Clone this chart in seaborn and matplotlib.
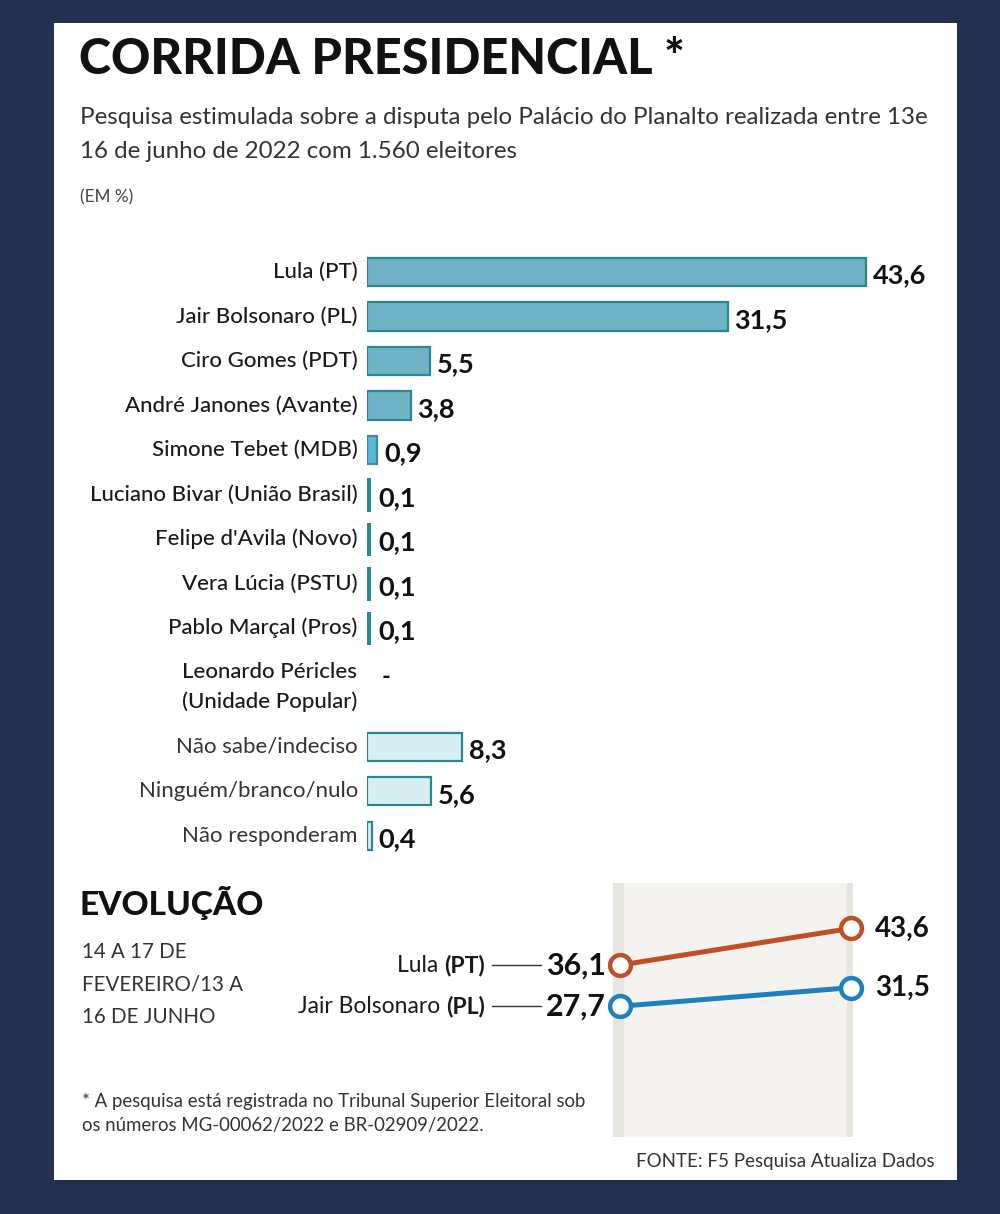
import matplotlib.pyplot as plt
import matplotlib.patches as mpatches
from matplotlib.lines import Line2D
import numpy as np
import pandas as pd
import seaborn as sns

# Data
nomes = ["Lula (PT)", "Jair Bolsonaro (PL)", "Ciro Gomes (PDT)", "André Janones (Avante)",
         "Simone Tebet (MDB)", "Luciano Bivar (União Brasil)", "Felipe d'Avila (Novo)",
         "Vera Lúcia (PSTU)", "Pablo Marçal (Pros)", "Leonardo Péricles\n(Unidade Popular)",
         "Não sabe/indeciso", "Ninguém/branco/nulo", "Não responderam"]
valores = [43.6, 31.5, 5.5, 3.8, 0.9, 0.1, 0.1, 0.1, 0.1, np.nan, 8.3, 5.6, 0.4]
tipo = ["candidato"] * 10 + ["outro"] * 3

periodos = ["14 a 17 de fevereiro", "13 a 16 de junho"]
evol_lula = [36.1, 43.6]
evol_bolsonaro = [27.7, 31.5]

W, H = 1000, 1214
FONT = "Lato"
plt.rcParams["font.family"] = [FONT, "DejaVu Sans"]

fig = plt.figure(figsize=(W / 100, H / 100), dpi=100)
fig.patch.set_facecolor("#222f4e")


def fx(x):
    return x / W


def fy(y):
    return 1 - y / H


# white card
fig.add_artist(mpatches.Rectangle((fx(54), fy(1180)), fx(957) - fx(54), fy(23) - fy(1180),
                                  transform=fig.transFigure, facecolor="white", edgecolor="none", zorder=0))

# header
fig.text(fx(79), fy(60), "CORRIDA PRESIDENCIAL *", fontsize=35, fontweight="black", color="#111111",
         va="center", ha="left")
fig.text(fx(80), fy(117), "Pesquisa estimulada sobre a disputa pelo Palácio do Planalto realizada entre 13e",
         fontsize=17.4, color="#333333", va="center")
fig.text(fx(80), fy(152), "16 de junho de 2022 com 1.560 eleitores", fontsize=17.4, color="#333333", va="center")
fig.text(fx(80), fy(197), "(EM %)", fontsize=12.3, color="#444444", va="center")

# bar chart
df = pd.DataFrame({"nome": nomes, "valor": valores, "tipo": tipo})
idx = np.arange(len(df))
df["pos"] = idx + (idx >= 9) / 3 + (idx >= 10) / 3


def estilo(row):
    if row["tipo"] == "outro":
        return "outro"
    if row["valor"] <= 0.1:
        return "minimo"
    if row["valor"] < 2:
        return "pequeno"
    return "normal"


df["estilo"] = df.apply(estilo, axis=1)
fills = {"normal": "#70b3c7", "pequeno": "#58bad4", "minimo": "#278b93", "outro": "#d7eef2"}
edges = {"normal": "#2a8790", "pequeno": "#3a8c9c", "minimo": "#278b93", "outro": "#2a8790"}

scale = 11.45  # px per unit
ax_top, ax_bot = 250, 860
ax = fig.add_axes([fx(367), fy(ax_bot), 600 / W, (ax_bot - ax_top) / H])
plot_df = df.dropna(subset=["valor"])
sns.barplot(data=plot_df, x="valor", y="pos", hue="estilo", palette=fills, orient="h",
            native_scale=True, dodge=False, width=0.63, legend=False, ax=ax, linewidth=1.6,
            saturation=1)
for patch in ax.patches:
    yc = patch.get_y() + patch.get_height() / 2
    row = df.iloc[(df["pos"] - yc).abs().argmin()]
    patch.set_edgecolor(edges[row["estilo"]])
    if row["estilo"] == "minimo":
        patch.set_linewidth(3.6)

ax.set_xlim(0, 600 / scale)
ax.set_ylim((ax_bot - 272) / 44.5, (ax_top - 272) / 44.5)
ax.axis("off")

for _, row in df.iterrows():
    cor = "#1a1a1a" if row["tipo"] == "candidato" else "#333333"
    peso = "medium" if row["tipo"] == "candidato" else "normal"
    if "\n" in row["nome"]:
        ax.text(-0.8, row["pos"], row["nome"], ha="right", va="center", multialignment="left",
                fontsize=16, color=cor, fontweight=peso, linespacing=1.55, clip_on=False)
    else:
        ax.text(-0.8, row["pos"], row["nome"], ha="right", va="center", fontsize=16,
                color=cor, fontweight=peso, clip_on=False)
    if np.isnan(row["valor"]):
        ax.text(1.3, row["pos"] - 0.25, "-", ha="left", va="center", fontsize=17, fontweight="bold",
                color="#111111", clip_on=False)
    else:
        ax.text(max(row["valor"], 0.35) + 0.6, row["pos"] + 0.08, f"{row['valor']:.1f}".replace(".", ","),
                ha="left", va="center", fontsize=19.5, fontweight="bold", color="#111111", clip_on=False)

# evolution section
fig.text(fx(79), fy(903), "EVOLUÇÃO", fontsize=24, fontweight="black", color="#111111", va="center")
for i, linha in enumerate(["14 A 17 DE", "FEVEREIRO/13 A", "16 DE JUNHO"]):
    fig.text(fx(82), fy(952 + 32.5 * i), linha, fontsize=14.8, color="#333333", va="center")

lx0, lx1, ly0, ly1 = 613, 853, 883, 1137
ax2 = fig.add_axes([fx(lx0), fy(ly1), (lx1 - lx0) / W, (ly1 - ly0) / H])
ax2.set_facecolor("#f4f3ef")
evol = pd.DataFrame({
    "periodo": periodos * 2,
    "candidato": ["Lula (PT)"] * 2 + ["Jair Bolsonaro (PL)"] * 2,
    "valor": evol_lula + evol_bolsonaro,
})
cores = {"Lula (PT)": "#c04e27", "Jair Bolsonaro (PL)": "#1f80bf"}
ax2.axvspan(-7 / 231, 3 / 231, color="#e6e5df", zorder=0)
ax2.axvspan(1 - 4 / 231, 1 + 2 / 231, color="#e6e5df", zorder=0)
sns.lineplot(data=evol, x="periodo", y="valor", hue="candidato", palette=cores, linewidth=3.6,
             marker="o", markersize=15, markerfacecolor="white", markeredgewidth=3.2,
             legend=False, ax=ax2, clip_on=False, zorder=3)
for ln in ax2.lines:
    ln.set_markeredgecolor(ln.get_color())
ax2.set_xlim(-7 / 231, 1 + 2 / 231)
ax2.set_ylim((1142 - ly1) / 4.9, (1142 - ly0) / 4.9)
ax2.set_xticks([])
ax2.set_yticks([])
ax2.set_xlabel("")
ax2.set_ylabel("")
for s in ax2.spines.values():
    s.set_visible(False)

for vals in (evol_lula, evol_bolsonaro):
    ax2.text(1 + 24 / 231, vals[1], f"{vals[1]:.1f}".replace(".", ","), ha="left", va="center",
             fontsize=20, fontweight="bold", color="#111111", clip_on=False)
    ax2.text(-14 / 231, vals[0], f"{vals[0]:.1f}".replace(".", ","), ha="right", va="center",
             fontsize=22, fontweight="bold", color="#111111", clip_on=False)

# left labels with bold party
fig.canvas.draw()
renderer = fig.canvas.get_renderer()
for nome, partido, vals in (("Lula ", "(PT)", evol_lula), ("Jair Bolsonaro ", "(PL)", evol_bolsonaro)):
    yv = ax2.transData.transform((0, vals[0]))[1]
    yfig = yv / H
    t = fig.text(fx(485), yfig, partido, ha="right", va="center", fontsize=16.5, fontweight="bold",
                 color="#1a1a1a")
    bb = t.get_window_extent(renderer)
    fig.text(bb.x0 / W, yfig, nome, ha="right", va="center", fontsize=16.5, color="#1a1a1a")
    fig.add_artist(Line2D([fx(492), fx(541)], [yfig, yfig], transform=fig.transFigure,
                          color="#333333", linewidth=1))

# footer
fig.text(fx(82), fy(1102), "* A pesquisa está registrada no Tribunal Superior Eleitoral sob",
         fontsize=13.4, color="#333333", va="center")
fig.text(fx(82), fy(1126), "os números MG-00062/2022 e BR-02909/2022.", fontsize=13.4, color="#333333", va="center")
fig.text(fx(935), fy(1161), "FONTE: F5 Pesquisa Atualiza Dados", fontsize=13.5, color="#333333",
         va="center", ha="right")

fig.savefig("out.png", dpi=100, facecolor=fig.get_facecolor())
